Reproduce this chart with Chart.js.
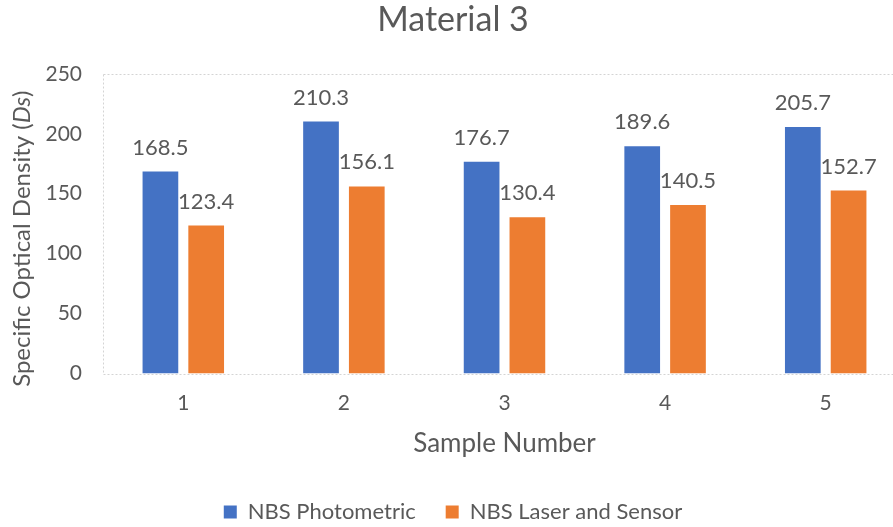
<!DOCTYPE html>
<html>
<head>
<meta charset="utf-8">
<script src="https://cdn.jsdelivr.net/npm/chart.js@4"></script>
<style>
    html, body { margin: 0; padding: 0; background: #fff; overflow: hidden; }
    #wrap { width: 912px; height: 533px; }
</style>
</head>
<body>
<div id="wrap"><canvas id="chart" width="912" height="533"></canvas></div>
<script>
// values
var samples = ['1', '2', '3', '4', '5'];
var photometric = [168.5, 210.3, 176.7, 189.6, 205.7];
var laserSensor = [123.4, 156.1, 130.4, 140.5, 152.7];
var yTicks = [0, 50, 100, 150, 200, 250];

var textColor = '#595959';
var fontFamily = 'Lato, "Open Sans", sans-serif';
var yTitleSize = 24;

// dotted border round the plot area
const plotBorder = {
    id: 'plotBorder',
    beforeDatasetsDraw(chart) {
        const a = chart.chartArea;
        const ctx = chart.ctx;
        ctx.save();
        ctx.strokeStyle = '#d4d4d4';
        ctx.lineWidth = 1;
        ctx.setLineDash([2, 2]);
        ctx.strokeRect(Math.round(a.left) + 0.5, Math.round(a.top) + 0.5,
            Math.round(a.right - a.left), Math.round(a.bottom - a.top));
        ctx.restore();
    }
};

// value labels above each bar
const valueLabels = {
    id: 'valueLabels',
    afterDatasetsDraw(chart) {
        const ctx = chart.ctx;
        ctx.save();
        ctx.font = '22px ' + fontFamily;
        ctx.fillStyle = textColor;
        ctx.textAlign = 'center';
        ctx.textBaseline = 'middle';
        chart.data.datasets.forEach((ds, i) => {
            const meta = chart.getDatasetMeta(i);
            meta.data.forEach((bar, j) => {
                ctx.fillText(ds.data[j].toFixed(1), bar.x, bar.y - 24);
            });
        });
        ctx.restore();
    }
};

// y axis title with italic "Ds", drawn left of the tick labels
const yTitle = {
    id: 'yTitle',
    afterDraw(chart) {
        const ctx = chart.ctx;
        const a = chart.chartArea;
        const parts = [
            ['Specific Optical Density (', ''],
            ['Ds', 'italic '],
            [')', '']
        ];
        let total = 0;
        parts.forEach(p => {
            ctx.font = p[1] + yTitleSize + 'px ' + fontFamily;
            total += ctx.measureText(p[0]).width;
        });
        ctx.save();
        ctx.translate(a.left - 81, (a.top + a.bottom) / 2 + 15);
        ctx.rotate(-Math.PI / 2);
        ctx.fillStyle = textColor;
        ctx.textBaseline = 'middle';
        ctx.textAlign = 'left';
        let x = -total / 2;
        parts.forEach(p => {
            ctx.font = p[1] + yTitleSize + 'px ' + fontFamily;
            ctx.fillText(p[0], x, 0);
            x += ctx.measureText(p[0]).width;
        });
        ctx.restore();
    }
};

const data = {
    labels: samples,
    datasets: [{
        label: 'NBS Photometric',
        data: photometric,
        backgroundColor: '#4472C4',
        categoryPercentage: 0.57,
        barPercentage: 0.78
    }, {
        label: 'NBS Laser and Sensor',
        data: laserSensor,
        backgroundColor: '#ED7D31',
        categoryPercentage: 0.57,
        barPercentage: 0.78
    }]
};

const config = {
    type: 'bar',
    data: data,
    options: {
        responsive: false,
        animation: false,
        layout: { padding: { left: 0, right: 6, top: 0, bottom: 0 } },
        plugins: {
            title: {
                display: true,
                text: 'Material 3',
                color: textColor,
                font: { family: fontFamily, size: 34, weight: 'normal' },
                padding: { top: 0, bottom: 33 }
            },
            legend: {
                position: 'bottom',
                labels: {
                    color: textColor,
                    font: { family: fontFamily, size: 22 },
                    boxWidth: 13,
                    boxHeight: 13,
                    padding: 30
                }
            },
            tooltip: { enabled: false }
        },
        scales: {
            x: {
                grid: { display: false, drawTicks: false },
                border: { display: false },
                ticks: {
                    color: textColor,
                    font: { family: fontFamily, size: 21 },
                    padding: 17
                },
                title: {
                    display: true,
                    text: 'Sample Number',
                    color: textColor,
                    font: { family: fontFamily, size: 26 },
                    padding: { top: -5, bottom: 12 }
                }
            },
            y: {
                min: 0,
                max: 250,
                afterBuildTicks(axis) {
                    axis.ticks = yTicks.map(v => ({ value: v }));
                },
                afterFit(axis) {
                    axis.width = 103;
                },
                grid: { display: false, drawTicks: false },
                border: { display: false },
                ticks: {
                    color: textColor,
                    font: { family: fontFamily, size: 21 },
                    padding: 21
                }
            }
        }
    },
    plugins: [plotBorder, valueLabels, yTitle]
};

document.addEventListener('DOMContentLoaded', function() {
    new Chart(document.getElementById('chart'), config);
});
</script>
</body>
</html>
